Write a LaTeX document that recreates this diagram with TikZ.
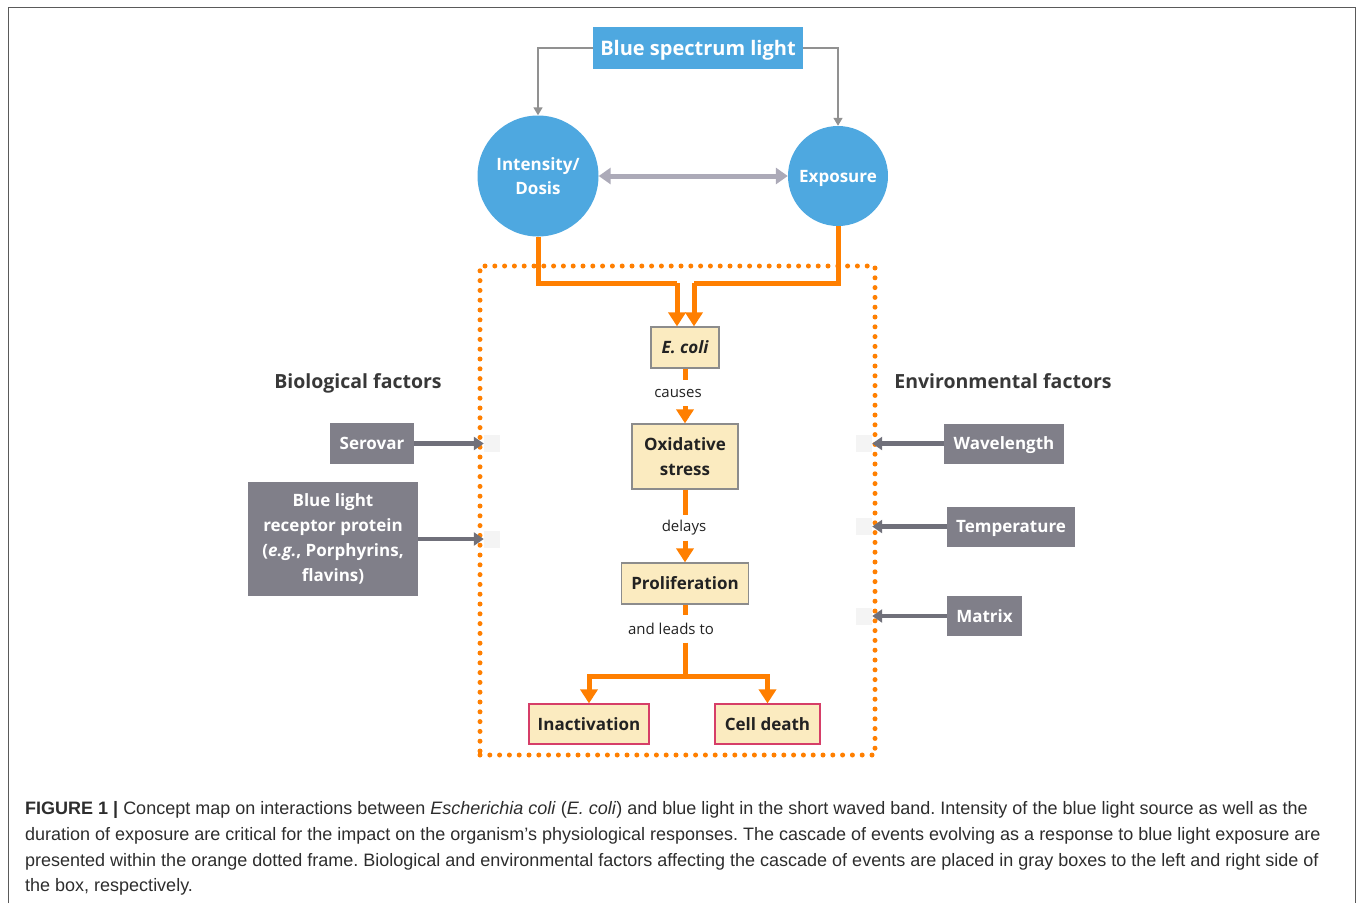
\documentclass[tikz,border=0pt]{standalone}
\usepackage{fontspec}
\setmainfont{Open Sans}
\newfontfamily\capf{Liberation Sans}
\usetikzlibrary{arrows.meta}
\definecolor{lblue}{RGB}{78,168,224}
\definecolor{org}{RGB}{255,127,0}
\definecolor{boxfill}{RGB}{251,235,192}
\definecolor{boxline}{RGB}{140,140,140}
\definecolor{gbox}{RGB}{128,127,137}
\definecolor{garrow}{RGB}{112,112,122}
\definecolor{lgarrow}{RGB}{172,170,184}
\definecolor{tgray}{RGB}{145,145,145}
\definecolor{pinkline}{RGB}{214,62,104}
\definecolor{txt}{RGB}{34,34,34}
\definecolor{framecol}{RGB}{90,90,90}
\definecolor{faint}{RGB}{244,244,244}
\frenchspacing
\begin{document}
\begin{tikzpicture}[x=1pt,y=-1pt,
  oneline/.style={text height=14pt, text depth=2pt},
  bluebox/.style={fill=lblue, text=white, inner sep=0pt, font=\fontsize{20}{24}\selectfont\bfseries, text height=16pt, text depth=2pt},
  bluecirc/.style={circle, fill=lblue, text=white, inner sep=0pt, align=center, font=\fontsize{17}{24}\selectfont\bfseries},
  stepbox/.style={fill=boxfill, draw=boxline, line width=1.2pt, inner sep=0pt, align=center, text=txt, font=\fontsize{17}{25}\selectfont\bfseries},
  endbox/.style={stepbox, draw=pinkline},
  graybox/.style={fill=gbox, text=white, inner sep=0pt, align=center, font=\fontsize{17}{25}\selectfont\bfseries},
  edgelabel/.style={inner sep=0pt, text=txt, font=\fontsize{15}{17}\selectfont},
  heading/.style={inner sep=0pt, text=txt!90, font=\fontsize{19.5}{22}\selectfont\bfseries, text height=15pt, text depth=1pt},
  faintsq/.style={fill=faint, inner sep=0pt, minimum width=16pt, minimum height=17pt},
  thinarrow/.style={draw=tgray, line width=1.5pt, -{Triangle[width=9pt,length=8pt]}},
  dblarrow/.style={draw=lgarrow, line width=5pt, {Triangle[width=16pt,length=12pt]}-{Triangle[width=16pt,length=12pt]}},
  orgline/.style={draw=org, line width=5pt},
  orgarrow/.style={orgline, -{Triangle[width=17pt,length=14pt]}},
  sidearrow/.style={draw=garrow, line width=4.5pt, -{Triangle[width=13pt,length=10pt]}},
  dotframe/.style={draw=org, line width=5pt, line cap=round, dash pattern=on 0pt off 9.8pt},
  captext/.style={anchor=west, inner sep=0pt, text=txt!95, font=\capf\fontsize{18}{20}\selectfont, text height=13pt, text depth=0pt}
]
\useasboundingbox (0,0) rectangle (1357,903);
\draw[framecol, line width=1.5pt] (8.5,903) -- (8.5,7.5) -- (1355.5,7.5) -- (1355.5,903);

% dotted frame
\node[dotframe, minimum width=395pt, minimum height=489pt, inner sep=0pt] (frame) at (677.5,510.5) {};

% top
\node[bluebox, minimum width=210pt, minimum height=42pt] (light) at (698,48) {Blue spectrum light};
\node[bluecirc, minimum size=121pt] (intens) at (538,176) {Intensity/\\Dosis};
\node[bluecirc, oneline, minimum size=100pt] (expo) at (838,176) {Exposure};

\draw[thinarrow] (light.west) -| (intens.north);
\draw[thinarrow] (light.east) -| (expo.north);
\draw[dblarrow] (intens.east) -- (expo.west);

% cascade
\node[stepbox, oneline, minimum width=68pt, minimum height=41pt] (ecoli) at (685,347.5) {\itshape E. coli};
\node[stepbox, minimum width=106pt, minimum height=65pt] (oxid) at (685,456.5) {Oxidative\\stress};
\node[stepbox, oneline, minimum width=127pt, minimum height=41pt] (prolif) at (685,583.5) {Proliferation};
\node[endbox, oneline, minimum width=120pt, minimum height=40pt] (inact) at (589,724) {Inactivation};
\node[endbox, oneline, minimum width=105pt, minimum height=40pt] (death) at (767.5,724) {Cell death};

\node[edgelabel, minimum height=26pt] (causes) at (678,393) {causes};
\node[edgelabel, minimum height=25pt] (delays) at (684,528) {delays};
\node[edgelabel, minimum height=27pt] (leads) at (671,629) {and leads to};

\coordinate (jl) at (677,283);
\coordinate (jr) at (694,283);
\coordinate (jb) at (685,676);

\draw[orgline] (intens.south) |- (jl);
\draw[orgarrow] (jl) -- (jl |- ecoli.north);
\draw[orgline] (expo.south) |- (jr);
\draw[orgarrow] (jr) -- (jr |- ecoli.north);

\draw[orgline] (ecoli.south) -- (ecoli.south |- causes.north);
\draw[orgarrow] (ecoli.south |- causes.south) -- (oxid.north);
\draw[orgline] (oxid.south) -- (oxid.south |- delays.north);
\draw[orgarrow] (oxid.south |- delays.south) -- (prolif.north);
\draw[orgline] (prolif.south) -- (prolif.south |- leads.north);
\draw[orgline] (prolif.south |- leads.south) -- (jb);
\draw[orgarrow] (jb) -| (inact.north);
\draw[orgarrow] (jb) -| (death.north);

% factors
\node[heading] (bio) at (358,381) {Biological factors};
\node[heading] (env) at (1003,381) {Environmental factors};

\node[graybox, oneline, minimum width=84pt, minimum height=41pt] (serovar) at (372,443.5) {Serovar};
\node[graybox, minimum width=170pt, minimum height=114pt] (recep) at (333,539) {Blue light\\receptor protein\\(\textit{e.g.},~Porphyrins,\\flavins)};
\node[graybox, oneline, minimum width=120pt, minimum height=40pt] (wave) at (1004,443.5) {Wavelength};
\node[graybox, oneline, minimum width=128pt, minimum height=40pt] (temp) at (1011,526.5) {Temperature};
\node[graybox, oneline, minimum width=75pt, minimum height=40pt] (matrix) at (984.5,616) {Matrix};

\node[faintsq] (sqS) at (492,443.5) {};
\node[faintsq] (sqR) at (492,539) {};
\node[faintsq] (sqW) at (864,443.5) {};
\node[faintsq] (sqT) at (864,526.5) {};
\node[faintsq] (sqM) at (864,616) {};

\draw[sidearrow] (serovar.east) -- (sqS.west);
\draw[sidearrow] (recep.east |- sqR) -- (sqR.west);
\draw[sidearrow] (wave.west) -- (sqW.east);
\draw[sidearrow] (temp.west) -- (sqT.east);
\draw[sidearrow] (matrix.west) -- (sqM.east);

% caption
\node[captext] (c1) at (25,808) {\textbf{FIGURE 1 |} Concept map on interactions between \textit{Escherichia coli} (\textit{E. coli}) and blue light in the short waved band. Intensity of the blue light source as well as the};
\node[captext] (c2) at (25,834) {duration of exposure are critical for the impact on the organism’s physiological responses. The cascade of events evolving as a response to blue light exposure are};
\node[captext] (c3) at (25,860) {presented within the orange dotted frame. Biological and environmental factors affecting the cascade of events are placed in gray boxes to the left and right side of};
\node[captext] (c4) at (25,885) {the box, respectively.};
\end{tikzpicture}
\end{document}
